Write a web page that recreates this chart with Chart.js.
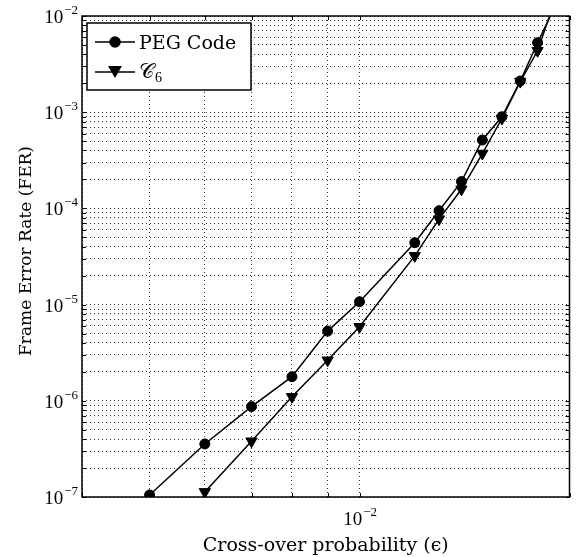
<!DOCTYPE html>
<html>
<head>
<meta charset="utf-8">
<script src="https://cdn.jsdelivr.net/npm/chart.js@4.4.0/dist/chart.umd.min.js"></script>
<style>
  html, body { margin: 0; padding: 0; background: #fff; }
  #wrap { width: 577px; height: 557px; }
</style>
</head>
<body>
<div id="wrap"><canvas id="fer"></canvas></div>
<script>
// cross-over probability vs frame error rate
const pegEps = [0.005, 0.006, 0.007, 0.008, 0.009, 0.010, 0.012, 0.013, 0.014, 0.015, 0.016, 0.017, 0.018, 0.019];
const pegFer = [1.05e-7, 3.56e-7, 8.7e-7, 1.78e-6, 5.3e-6, 1.07e-5, 4.4e-5, 9.46e-5, 1.9e-4, 5.14e-4, 8.97e-4, 2.11e-3, 5.27e-3, 1.2e-2];
const c6Eps = [0.006, 0.007, 0.008, 0.009, 0.010, 0.012, 0.013, 0.014, 0.015, 0.016, 0.017, 0.018, 0.019];
const c6Fer = [1.13e-7, 3.8e-7, 1.1e-6, 2.64e-6, 5.88e-6, 3.21e-5, 7.73e-5, 1.58e-4, 3.72e-4, 8.6e-4, 2.08e-3, 4.35e-3, 1.35e-2];

// grid / tick positions
const xGrid = [0.004, 0.005, 0.006, 0.007, 0.008, 0.009, 0.01, 0.02];
const yGrid = [];
for (let e = -7; e < -2; e++) {
  for (let m = 1; m < 10; m++) yGrid.push(m * Math.pow(10, e));
}
yGrid.push(1e-2);
const xDecades = [-2];
const yDecades = [-7, -6, -5, -4, -3, -2];

const serif = '"Liberation Serif", "DejaVu Serif", serif';
const wide = '"DejaVu Serif", "Liberation Serif", serif';

function toPoints(xs, ys) {
  return xs.map((x, i) => ({ x: x, y: ys[i] }));
}

// "10" with a raised exponent
function powLabel(ctx, x, base, e, align) {
  const exp = "\u2212" + Math.abs(e);
  ctx.font = "19px " + serif;
  const w1 = ctx.measureText("10").width;
  ctx.font = "13px " + serif;
  const w2 = ctx.measureText(exp).width;
  let x0 = align === "right" ? x - w1 - w2 : x - (w1 + w2) / 2;
  ctx.textAlign = "left";
  ctx.textBaseline = "alphabetic";
  ctx.font = "19px " + serif;
  ctx.fillText("10", x0, base);
  ctx.font = "13px " + serif;
  ctx.fillText(exp, x0 + w1 + 1, base - 9);
}

const framePlugin = {
  id: "frame",
  afterDraw(chart) {
    const ctx = chart.ctx;
    const a = chart.chartArea;
    const xs = chart.scales.x;
    const ys = chart.scales.y;
    ctx.save();
    ctx.strokeStyle = "#000";
    ctx.fillStyle = "#000";

    // inward ticks
    ctx.lineWidth = 1;
    ctx.beginPath();
    xs.ticks.forEach(t => {
      const px = Math.round(xs.getPixelForValue(t.value)) + 0.5;
      ctx.moveTo(px, a.bottom); ctx.lineTo(px, a.bottom - 4);
      ctx.moveTo(px, a.top); ctx.lineTo(px, a.top + 4);
    });
    ys.ticks.forEach(t => {
      const py = Math.round(ys.getPixelForValue(t.value)) + 0.5;
      ctx.moveTo(a.left, py); ctx.lineTo(a.left + 4, py);
      ctx.moveTo(a.right, py); ctx.lineTo(a.right - 4, py);
    });
    ctx.stroke();

    // box
    ctx.lineWidth = 1.5;
    ctx.strokeRect(a.left, a.top, a.right - a.left, a.bottom - a.top);

    // tick labels
    yDecades.forEach(e => {
      const py = ys.getPixelForValue(Math.pow(10, e));
      powLabel(ctx, a.left - 5, py + 7, e, "right");
    });
    xDecades.forEach(e => {
      const px = xs.getPixelForValue(Math.pow(10, e));
      powLabel(ctx, px, a.bottom + 28, e, "center");
    });

    // axis titles
    ctx.textAlign = "center";
    ctx.textBaseline = "alphabetic";
    ctx.font = "19px " + wide;
    ctx.fillText("Cross-over probability (\u03F5)", (a.left + a.right) / 2, 551);
    ctx.font = "17px " + wide;
    ctx.save();
    ctx.translate(31, 251);
    ctx.rotate(-Math.PI / 2);
    ctx.fillText("Frame Error Rate (FER)", 0, 0);
    ctx.restore();

    // legend
    ctx.fillStyle = "#fff";
    ctx.fillRect(87, 23, 164, 67);
    ctx.lineWidth = 1.5;
    ctx.strokeRect(87, 23, 164, 67);
    ctx.fillStyle = "#000";
    ctx.lineWidth = 1.5;
    ctx.beginPath();
    ctx.moveTo(95, 42); ctx.lineTo(135, 42);
    ctx.moveTo(95, 72); ctx.lineTo(135, 72);
    ctx.stroke();
    Chart.helpers.drawPoint(ctx, { pointStyle: "circle", radius: 5, borderWidth: 1, rotation: 0 }, 115, 42);
    Chart.helpers.drawPoint(ctx, { pointStyle: "triangle", radius: 6.5, borderWidth: 1, rotation: 180 }, 115, 70);
    ctx.textAlign = "left";
    ctx.font = "19px " + wide;
    ctx.fillText("PEG Code", 139, 49);
    ctx.font = "21px " + serif;
    ctx.fillText("\u{1D49E}", 139, 78);
    const wc = ctx.measureText("\u{1D49E}").width;
    ctx.font = "14px " + serif;
    ctx.fillText("6", 139 + wc + 1, 82);

    ctx.restore();
  }
};

const lineStyle = {
  borderColor: "#000",
  backgroundColor: "#000",
  pointBackgroundColor: "#000",
  pointBorderColor: "#000",
  borderWidth: 1.5,
  pointBorderWidth: 1,
  tension: 0,
  fill: false
};

const canvas = document.getElementById("fer");
new Chart(canvas.getContext("2d"), {
  type: "line",
  data: {
    datasets: [
      Object.assign({
        label: "PEG Code",
        data: toPoints(pegEps, pegFer),
        pointStyle: "circle",
        pointRadius: 5,
        pointHoverRadius: 5
      }, lineStyle),
      Object.assign({
        label: "C6",
        data: toPoints(c6Eps, c6Fer),
        pointStyle: "triangle",
        pointRotation: 180,
        pointRadius: 6.5,
        pointHoverRadius: 6.5
      }, lineStyle)
    ]
  },
  options: {
    responsive: true,
    maintainAspectRatio: false,
    animation: false,
    events: [],
    layout: { padding: { left: 0, top: 16, right: 4, bottom: 0 } },
    plugins: {
      legend: { display: false },
      tooltip: { enabled: false }
    },
    scales: {
      x: {
        type: "logarithmic",
        min: 0.004,
        max: 0.02,
        afterBuildTicks: s => { s.ticks = xGrid.map(v => ({ value: v })); },
        afterFit: s => { s.height = 60; },
        ticks: { display: false, autoSkip: false },
        grid: { color: "#333", lineWidth: 1, drawTicks: false },
        border: { display: false, dash: [1, 3] }
      },
      y: {
        type: "logarithmic",
        min: 1e-7,
        max: 1e-2,
        afterBuildTicks: s => { s.ticks = yGrid.map(v => ({ value: v })); },
        afterFit: s => { s.width = 82; },
        ticks: { display: false, autoSkip: false },
        grid: { color: "#333", lineWidth: 1, drawTicks: false },
        border: { display: false, dash: [1, 3] }
      }
    }
  },
  plugins: [framePlugin]
});
</script>
</body>
</html>
